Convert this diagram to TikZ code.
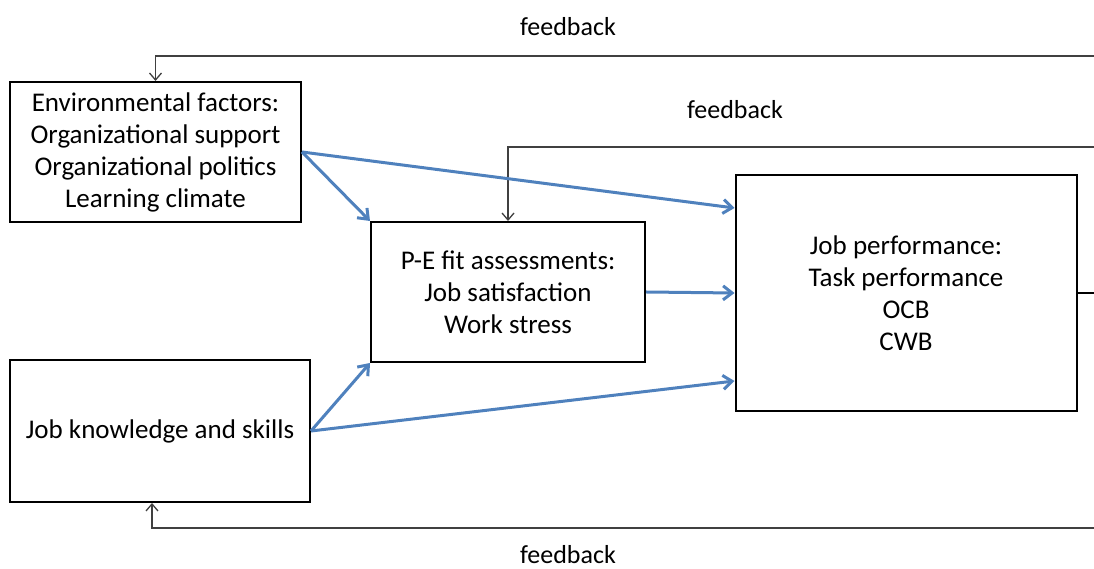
\documentclass[tikz,border=0pt]{standalone}
\usepackage{fontspec}
\setmainfont{Carlito}
\usepackage{tikz}
\usetikzlibrary{arrows.meta}
\definecolor{arrowblue}{RGB}{79,129,189}

\begin{document}
\begin{tikzpicture}[x=1pt,y=1pt,
        box/.style={draw,line width=2pt,align=center,inner sep=0pt,
            font=\fontsize{27}{32}\selectfont},
        link/.style={arrowblue,line width=3pt,-{Straight Barb[length=9pt,width=14pt,line width=3pt]}},
        fb/.style={black!75,line width=1.3pt,-{Straight Barb[length=7pt,width=12pt,line width=1.3pt]}},
        lbl/.style={inner sep=0pt,font=\fontsize{26}{32}\selectfont}]
            \useasboundingbox (0,0) rectangle (1094,569);
            \node[box,minimum width=291pt,minimum height=140pt] (env) at (155.5,417)
                {Environmental factors:\\Organizational support\\Organizational politics\\Learning climate};
            \node[box,minimum width=274pt,minimum height=140pt] (pe) at (508,277)
                {P-E fit assessments:\\Job satisfaction\\Work stress};
            \node[box,minimum width=341pt,minimum height=236pt] (jp) at (906,276)
                {Job performance:\\Task performance\\OCB\\CWB};
            \node[box,minimum width=300pt,minimum height=142pt] (jk) at (160,138)
                {Job knowledge and skills};
            % feedback loops (run off the right edge)
            \coordinate (fbtop) at (1094,513);
            \coordinate (fbmid) at (1094,422);
            \coordinate (fbbot) at (1094,41);
            \coordinate (fbout) at (1094,276);
            \draw[fb] (fbtop) -| (env.north);
            \draw[fb] (fbmid) -| (pe.north);
            \draw[fb] (fbbot) -| ([xshift=-8pt]jk.south);
            \draw[black,line width=1.6pt] (jp.east) -- (fbout);
            \node[lbl] (fbl1) at (568,542) {feedback};
            \node[lbl] (fbl2) at (735,459) {feedback};
            \node[lbl] (fbl3) at (568,14) {feedback};
            % blue paths
            \draw[link] (env.east) -- (pe.north west);
            \draw[link] (env.east) -- ([yshift=85pt]jp.west);
            \draw[link] (pe.east) -- (jp.west);
            \draw[link] (jk.east) -- (pe.south west);
            \draw[link] (jk.east) -- ([yshift=-88pt]jp.west);
        \end{tikzpicture}
\end{document}
